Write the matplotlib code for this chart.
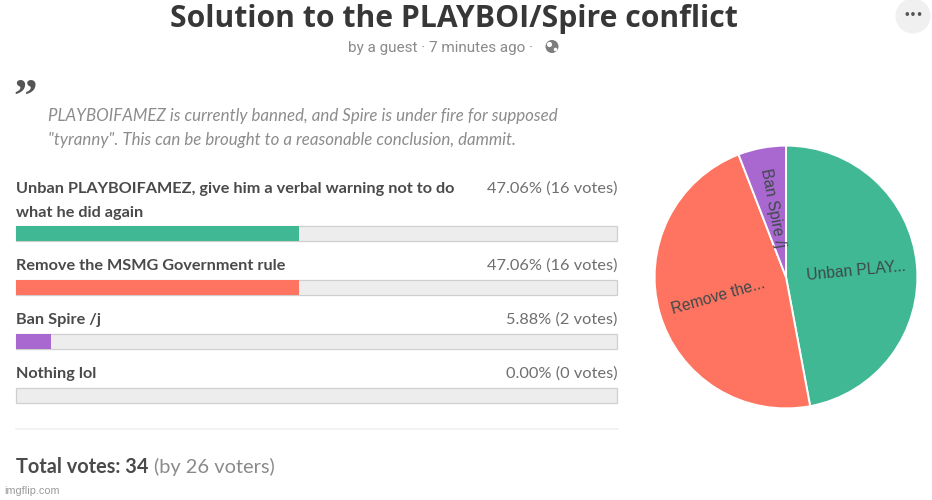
import math
import matplotlib
matplotlib.use("Agg")
import matplotlib.pyplot as plt
from matplotlib.patches import Circle

title = "Solution to the PLAYBOI/Spire conflict"
subtitle = "by a guest · 7 minutes ago ·"
description = ["PLAYBOIFAMEZ is currently banned, and Spire is under fire for supposed",
               "\"tyranny\". This can be brought to a reasonable conclusion, dammit."]
options = ["Unban PLAYBOIFAMEZ, give him a verbal warning not to do\nwhat he did again",
           "Remove the MSMG Government rule", "Ban Spire /j", "Nothing lol"]
votes = [16, 16, 2, 0]
percents = [47.06, 47.06, 5.88, 0.00]
colors = ["#3fb893", "#ff7361", "#a968d0", "#cccccc"]
pie_labels = ["Unban PLAY...", "Remove the...", "Ban Spire /j"]
W, H = 932, 500
SANS = "Lato"

fig = plt.figure(figsize=(W / 100, H / 100), dpi=100, facecolor="white")

def rect(x0, y0, x1, y1):
    return [x0 / W, 1 - y1 / H, (x1 - x0) / W, (y1 - y0) / H]

ov = fig.add_axes([0, 0, 1, 1], zorder=3)
ov.set_xlim(0, W); ov.set_ylim(H, 0); ov.axis("off"); ov.patch.set_alpha(0)

ov.text(454, 27, title, ha="center", va="baseline", fontsize=21.7, fontweight="bold",
        family="Open Sans", color="#373737")
ov.text(440, 52, subtitle, ha="center", va="baseline", fontsize=11, family="Roboto", color="#8a8a8a")
ov.add_patch(Circle((552, 46.5), 6.5, color="#7d7d7d", lw=0))
ov.add_patch(Circle((549.5, 44.5), 2.6, color="white", lw=0))
ov.add_patch(Circle((555.5, 49.5), 1.8, color="white", lw=0))
ov.add_patch(Circle((913, 16), 17.5, color="#f0f0f0", lw=0))
ov.text(913, 15.5, "•••", ha="center", va="center", fontsize=7.5, family="DejaVu Sans",
        fontweight="bold", color="#555555")
ov.text(13, 111, "”", ha="left", va="baseline", fontsize=34, family="Liberation Serif", fontweight="bold",
        color="#555555")
for y, line in zip((121, 145), description):
    ov.text(48, y, line, ha="left", va="baseline", fontsize=12.2, style="italic", family=SANS, color="#8c8c8c")

ax = fig.add_axes(rect(16, 226, 617, 403))
ax.set_xlim(0, 100)
ypos = list(range(len(options)))
ax.set_ylim(3 + 15 / 54 / 2, -15 / 54 / 2)
ax.axis("off")
ax.barh(ypos, [100] * 4, height=15 / 54, color="#ededed", edgecolor="#cfcfcf", linewidth=0.9, clip_on=False)
ax.barh(ypos, percents, height=15 / 54, color=colors, linewidth=0)

label_y = [192.5, 270, 324, 378]
for y, opt, pct, v in zip(label_y, options, percents, votes):
    parts = opt.split("\n")
    for i, p in enumerate(parts):
        ov.text(16, y + i * 24, p, ha="left", va="baseline", fontsize=11.7, fontweight="bold",
                family=SANS, color="#4a4a4a")
    ov.text(617.5, y, f"{pct:.2f}% ({v} votes)", ha="right", va="baseline", fontsize=11.8,
            family=SANS, color="#6f6f6f")

ov.plot([16, 617.5], [428.5, 428.5], color="#f1f1f1", lw=1.2)
ov.text(16, 473, "Total votes: 34", ha="left", va="baseline", fontsize=14.3, fontweight="bold",
        family=SANS, color="#4a4a4a")
ov.text(154, 473, "(by 26 voters)", ha="left", va="baseline", fontsize=14.4, family=SANS, color="#8a8a8a")
ov.text(4, 491, "imgflip.com", ha="left", va="center", fontsize=7.8, family="Liberation Sans", color="#9a9a9a")

pax = fig.add_axes(rect(655, 146, 917, 408), zorder=2)
pie_votes = votes[:3]
pax.pie(pie_votes, colors=colors[:3], startangle=90, counterclock=False, radius=1,
        wedgeprops=dict(edgecolor="white", linewidth=1.4))
pax.set_xlim(-0.997, 0.997); pax.set_ylim(-0.997, 0.997)
total = sum(pie_votes)
acc = 0
for v, lab in zip(pie_votes, pie_labels):
    mid = (acc + v / 2) / total * 2 * math.pi
    acc += v
    x, y = 0.535 * math.sin(mid), 0.535 * math.cos(mid)
    deg = 90 - math.degrees(mid)
    if math.sin(mid) < 0:
        deg += 180
    pax.text(x, y, lab, ha="center", va="center", rotation=deg, rotation_mode="anchor",
             fontsize=11.2, family="Liberation Sans", color="#3d4a4a", clip_on=False)

fig.savefig("out.png", dpi=100, facecolor="white")
